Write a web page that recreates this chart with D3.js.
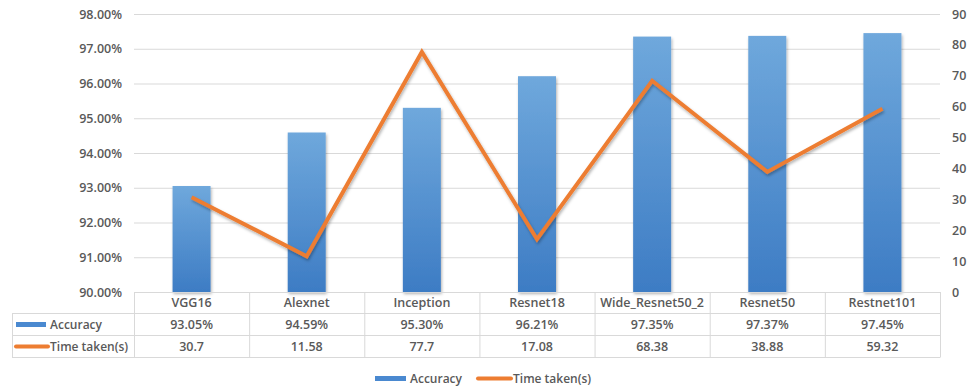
<!DOCTYPE html>
<html><head><meta charset="utf-8">
<script src="https://cdn.jsdelivr.net/npm/d3@7"></script>
<style>body{margin:0;background:#fff;} text{font-family:"Open Sans","DejaVu Sans",sans-serif;font-weight:600;fill:#595959;}</style>
</head><body><svg id="c" width="974" height="390"></svg>
<script>
const categories = ["VGG16","Alexnet","Inception","Resnet18","Wide_Resnet50_2","Resnet50","Restnet101"];
const accuracy = [93.05,94.59,95.30,96.21,97.35,97.37,97.45];
const accuracyLabels = ["93.05%","94.59%","95.30%","96.21%","97.35%","97.37%","97.45%"];
const timeTaken = [30.7,11.58,77.7,17.08,68.38,38.88,59.32];
const timeLabels = ["30.7","11.58","77.7","17.08","68.38","38.88","59.32"];
const leftTicks = [90,91,92,93,94,95,96,97,98];
const rightTicks = [0,10,20,30,40,50,60,70,80,90];

const svg = d3.select("#c");
const L=134, R=940, T=14, B=292;
const x = d3.scaleBand().domain(categories).range([L,R]);
const yL = d3.scaleLinear().domain([90,98]).range([B,T]);
const yR = d3.scaleLinear().domain([0,90]).range([B,T]);
const fs="12px";

const defs = svg.append("defs");
const g = defs.append("linearGradient").attr("id","bg").attr("x1",0).attr("y1",0).attr("x2",0).attr("y2",1);
g.append("stop").attr("offset","0%").attr("stop-color","#6fa8dc");
g.append("stop").attr("offset","100%").attr("stop-color","#3d7cc4");
const f = defs.append("filter").attr("id","sh").attr("x","-10%").attr("y","-10%").attr("width","120%").attr("height","130%");
f.append("feDropShadow").attr("dx",1).attr("dy",2).attr("stdDeviation",1.5).attr("flood-color","#000").attr("flood-opacity",0.3);

// gridlines
svg.append("g").selectAll("line").data(leftTicks).join("line")
  .attr("x1",L).attr("x2",R).attr("y1",d=>yL(d)+0.5).attr("y2",d=>yL(d)+0.5)
  .attr("stroke","#d9d9d9").attr("stroke-width",1);

// left axis labels
const la = d3.axisLeft(yL).tickValues(leftTicks).tickFormat(d=>d.toFixed(2)+"%").tickSize(0).tickPadding(12);
const gl = svg.append("g").attr("transform",`translate(${L},0)`).call(la);
gl.select(".domain").remove();
gl.selectAll("text").style("font-size","12.5px").style("font-family",null);

// right axis labels
const ra = d3.axisRight(yR).tickValues(rightTicks).tickSize(0).tickPadding(12);
const gr = svg.append("g").attr("transform",`translate(${R},0)`).call(ra);
gr.select(".domain").remove();
gr.selectAll("text").style("font-size","12.5px").style("font-family",null);

// bars
const bw = 38;
svg.append("g").selectAll("rect").data(categories).join("rect")
  .attr("x",(d)=>x(d)+x.bandwidth()/2-bw/2).attr("width",bw)
  .attr("y",(d,i)=>yL(accuracy[i])).attr("height",(d,i)=>B-yL(accuracy[i]))
  .attr("fill","url(#bg)").attr("filter","url(#sh)");

// line
const line = d3.line().x((d,i)=>x(categories[i])+x.bandwidth()/2).y(d=>yR(d));
svg.append("path").datum(timeTaken).attr("d",line).attr("fill","none")
  .attr("stroke","#ed7d31").attr("stroke-width",4).attr("stroke-linejoin","miter").attr("filter","url(#sh)");

// table
const rows = [B, 313.5, 335.5, 357.5];
const tb = svg.append("g");
const gc = "#d9d9d9";
tb.append("line").attr("x1",L).attr("x2",R).attr("y1",B+0.5).attr("y2",B+0.5).attr("stroke",gc);
[rows[1],rows[2],rows[3]].forEach(y=>tb.append("line").attr("x1",12).attr("x2",R).attr("y1",y).attr("y2",y).attr("stroke",gc));
tb.append("line").attr("x1",12.5).attr("x2",12.5).attr("y1",rows[1]).attr("y2",rows[3]).attr("stroke",gc);
categories.forEach(c=>tb.append("line").attr("x1",x(c)+0.5).attr("x2",x(c)+0.5).attr("y1",B).attr("y2",rows[3]).attr("stroke",gc));
tb.append("line").attr("x1",R+0.5).attr("x2",R+0.5).attr("y1",B).attr("y2",rows[3]).attr("stroke",gc);

const cx = d=>x(d)+x.bandwidth()/2;
tb.selectAll(".cat").data(categories).join("text").attr("x",cx).attr("y",(rows[0]+rows[1])/2+4.5)
  .attr("text-anchor","middle").style("font-size","12.5px").text(d=>d);
tb.selectAll(".acc").data(categories).join("text").attr("x",cx).attr("y",(rows[1]+rows[2])/2+4.5)
  .attr("text-anchor","middle").style("font-size","12.5px").text((d,i)=>accuracyLabels[i]);
tb.selectAll(".tim").data(categories).join("text").attr("x",cx).attr("y",(rows[2]+rows[3])/2+4.5)
  .attr("text-anchor","middle").style("font-size","12.5px").text((d,i)=>timeLabels[i]);
// row headers
tb.append("rect").attr("x",16).attr("y",(rows[1]+rows[2])/2-2.5).attr("width",30).attr("height",5).attr("fill","#4a89d0");
tb.append("text").attr("x",50).attr("y",(rows[1]+rows[2])/2+4.5).style("font-size",fs).text("Accuracy");
tb.append("line").attr("x1",16).attr("x2",48).attr("y1",(rows[2]+rows[3])/2).attr("y2",(rows[2]+rows[3])/2).attr("stroke","#ed7d31").attr("stroke-width",4).attr("stroke-linecap","round");
tb.append("text").attr("x",50).attr("y",(rows[2]+rows[3])/2+4.5).style("font-size",fs).text("Time taken(s)");

// legend
const lg = svg.append("g");
lg.append("rect").attr("x",375).attr("y",376).attr("width",31).attr("height",5).attr("fill","#4a89d0");
lg.append("text").attr("x",410).attr("y",383).style("font-size",fs).text("Accuracy");
lg.append("line").attr("x1",478).attr("x2",511).attr("y1",378.5).attr("y2",378.5).attr("stroke","#ed7d31").attr("stroke-width",4).attr("stroke-linecap","round");
lg.append("text").attr("x",513).attr("y",383).style("font-size",fs).text("Time taken(s)");
</script></body></html>
